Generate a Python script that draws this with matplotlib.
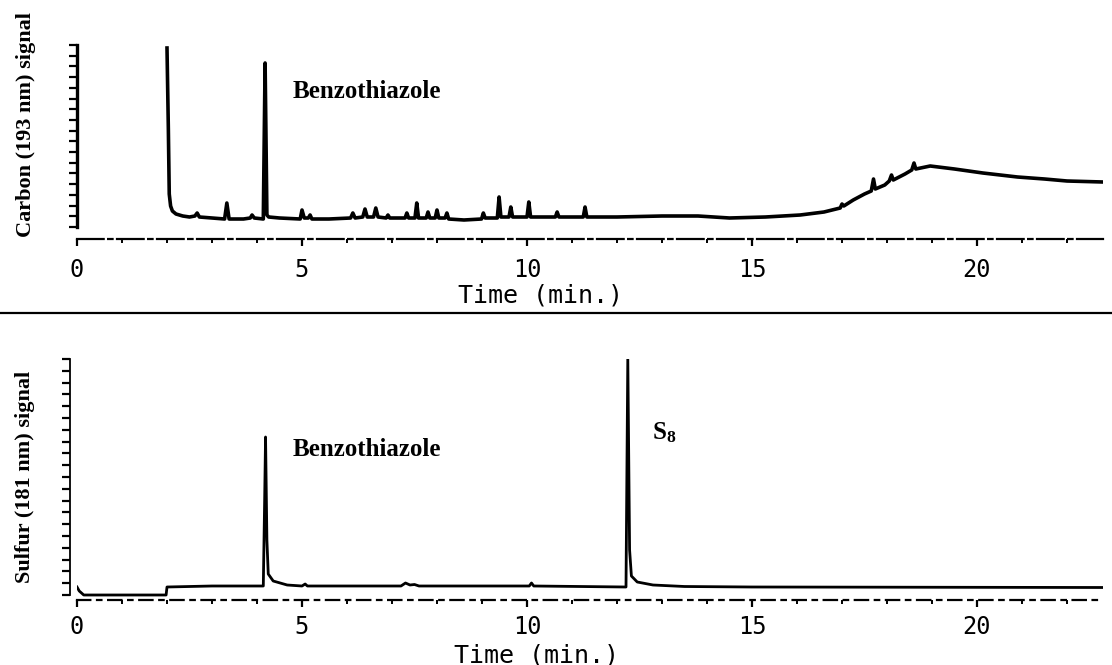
import numpy as np
import matplotlib
matplotlib.use("Agg")
import matplotlib.pyplot as plt
from matplotlib.lines import Line2D


FIG_W, FIG_H = 1112, 665

# Carbon (193 nm) trace (time in min, signal in arbitrary units)
carbon_time = [
    2.00, 2.03, 2.05, 2.08, 2.12, 2.20, 2.35, 2.50, 2.62, 2.67, 2.72, 3.00,
    3.28, 3.33, 3.38, 3.70, 3.85, 3.89, 3.94, 4.14, 4.18, 4.22, 4.26, 4.50,
    4.96, 5.00, 5.05, 5.14, 5.18, 5.22, 5.60, 6.08, 6.13, 6.18, 6.35, 6.40,
    6.45, 6.59, 6.64, 6.69, 6.87, 6.91, 6.95, 7.29, 7.33, 7.37, 7.51, 7.55,
    7.59, 7.76, 7.80, 7.84, 7.96, 8.00, 8.04, 8.18, 8.22, 8.26, 8.60, 8.99,
    9.03, 9.07, 9.34, 9.38, 9.42, 9.60, 9.64, 9.68, 10.00, 10.04, 10.08, 10.63,
    10.67, 10.71, 11.25, 11.29, 11.33, 12.00, 13.00, 13.80, 14.50, 15.30, 16.07, 16.60,
    16.96, 17.00, 17.04, 17.25, 17.50, 17.65, 17.70, 17.74, 17.95, 18.05, 18.10, 18.14,
    18.40, 18.55, 18.60, 18.64, 18.96, 19.50, 20.13, 20.90, 21.50, 22.00, 22.80,
]
carbon_signal = [
    191, 110, 45, 33, 28, 25, 23, 22, 23, 26, 22, 21,
    20, 36, 20, 20, 21, 24, 21, 20, 176, 24, 22, 21,
    20, 29, 21, 21, 24, 20, 20, 21, 26, 21, 22, 30,
    22, 22, 31, 22, 21, 24, 21, 21, 26, 21, 21, 36,
    21, 21, 27, 21, 21, 29, 21, 21, 26, 20, 19, 20,
    26, 21, 21, 42, 22, 22, 32, 22, 22, 37, 22, 22,
    27, 22, 22, 32, 22, 22, 23, 23, 21, 22, 24, 27,
    31, 35, 33, 39, 45, 48, 60, 50, 54, 58, 64, 59,
    65, 69, 76, 70, 73, 70, 66, 62, 60, 58, 57,
]

# Sulfur (181 nm) trace
sulfur_time = [
    0.00, 0.05, 0.15, 1.98, 2.00, 3.00, 4.14, 4.17, 4.19, 4.22, 4.25, 4.36,
    4.67, 5.00, 5.07, 5.12, 7.20, 7.30, 7.40, 7.50, 7.60, 10.05, 10.10, 10.15,
    12.20, 12.24, 12.28, 12.32, 12.45, 12.80, 13.50, 15.00, 22.80,
]
sulfur_signal = [
    13, 9, 5, 5, 13, 14, 14, 100, 163, 60, 26, 19,
    15, 14, 16, 14, 14, 17, 15, 15.5, 14, 14, 17, 14,
    13, 241, 50, 24, 18, 15, 13.5, 13, 12.5,
]

x_ticks = [0, 5, 10, 15, 20]
x_tick_labels = ["0", "5", "10", "15", "20"]
x_label = "Time (min.)"
carbon_label = "Carbon (193 nm) signal"
sulfur_label = "Sulfur (181 nm) signal"

plt.rcParams["mathtext.fontset"] = "custom"
plt.rcParams["mathtext.rm"] = "Liberation Serif"
plt.rcParams["mathtext.bf"] = "Liberation Serif:bold"

SERIF = "Liberation Serif"
MONO = "DejaVu Sans Mono"


def px(x, y):
    """Pixel position (from top-left) to figure fraction."""
    return x / FIG_W, 1 - y / FIG_H


def style_axis(ax, ymax, ytick_lo, ytick_n, axis_dash, spine_lw, label_pad):
    ax.set_xlim(0, 22.8)
    ax.set_ylim(0, ymax)

    for side in ["top", "right"]:
        ax.spines[side].set_visible(False)

    ax.spines["bottom"].set_linestyle(axis_dash)
    ax.spines["bottom"].set_linewidth(1.6)
    ax.spines["left"].set_linewidth(spine_lw)
    ax.spines["left"].set_bounds(ytick_lo, ymax)

    ax.set_xticks(x_ticks)
    ax.set_xticklabels(x_tick_labels, fontfamily=MONO, fontsize=17)
    ax.set_xticks(np.arange(0, 23, 1), minor=True)
    ax.tick_params(axis="x", which="major", direction="out", length=5,
                   width=1.6, pad=label_pad)
    ax.tick_params(axis="x", which="minor", direction="out", length=3,
                   width=1.4)

    ax.set_yticks(np.linspace(ytick_lo, ymax, ytick_n))
    ax.set_yticklabels([])
    ax.tick_params(axis="y", direction="out", length=6, width=1.6)


def main():
    fig = plt.figure(figsize=(FIG_W / 100, FIG_H / 100), dpi=100)

    # top panel: carbon channel
    ax_c = fig.add_axes([77 / FIG_W, 1 - 239 / FIG_H, 1026 / FIG_W, 194 / FIG_H])
    style_axis(ax_c, 194, 12, 18, (0, (12, 2, 2, 2)), 2.4, 9)
    ax_c.plot(carbon_time, carbon_signal, color="black", lw=2.6,
              solid_joinstyle="round")
    ax_c.text(4.8, 148, "Benzothiazole", fontfamily=SERIF, fontweight="bold",
              fontsize=18, ha="left", va="center")

    # bottom panel: sulfur channel
    ax_s = fig.add_axes([77 / FIG_W, 1 - 600 / FIG_H, 1026 / FIG_W, 241 / FIG_H])
    style_axis(ax_s, 241, 5, 21, (0, (6, 3, 2, 3)), 1.3, 6)
    ax_s.spines["left"].set_position(("outward", 5))
    ax_s.plot(sulfur_time, sulfur_signal, color="black", lw=2.0,
              solid_joinstyle="round")
    ax_s.text(4.8, 150, "Benzothiazole", fontfamily=SERIF, fontweight="bold",
              fontsize=18, ha="left", va="center")
    ax_s.text(12.78, 167, r"$\mathbf{S_8}$", fontsize=18, ha="left",
              va="center")

    # axis titles
    fig.text(*px(26, 125), carbon_label, rotation=90, ha="center", va="center",
             fontfamily=SERIF, fontweight="bold", fontsize=16)
    fig.text(*px(25, 477), sulfur_label, rotation=90, ha="center", va="center",
             fontfamily=SERIF, fontweight="bold", fontsize=16)
    fig.text(*px(541, 296), x_label, ha="center", va="center",
             fontfamily=MONO, fontsize=18)
    fig.text(*px(537, 655), x_label, ha="center", va="center",
             fontfamily=MONO, fontsize=18)

    # separator rule between the two chromatograms
    y_sep = 1 - 313 / FIG_H
    fig.add_artist(Line2D([0, 1], [y_sep, y_sep], transform=fig.transFigure,
                          color="black", lw=1.6))

    fig.savefig("out.png", dpi=100, facecolor="white")
    plt.close(fig)


if __name__ == "__main__":
    main()
